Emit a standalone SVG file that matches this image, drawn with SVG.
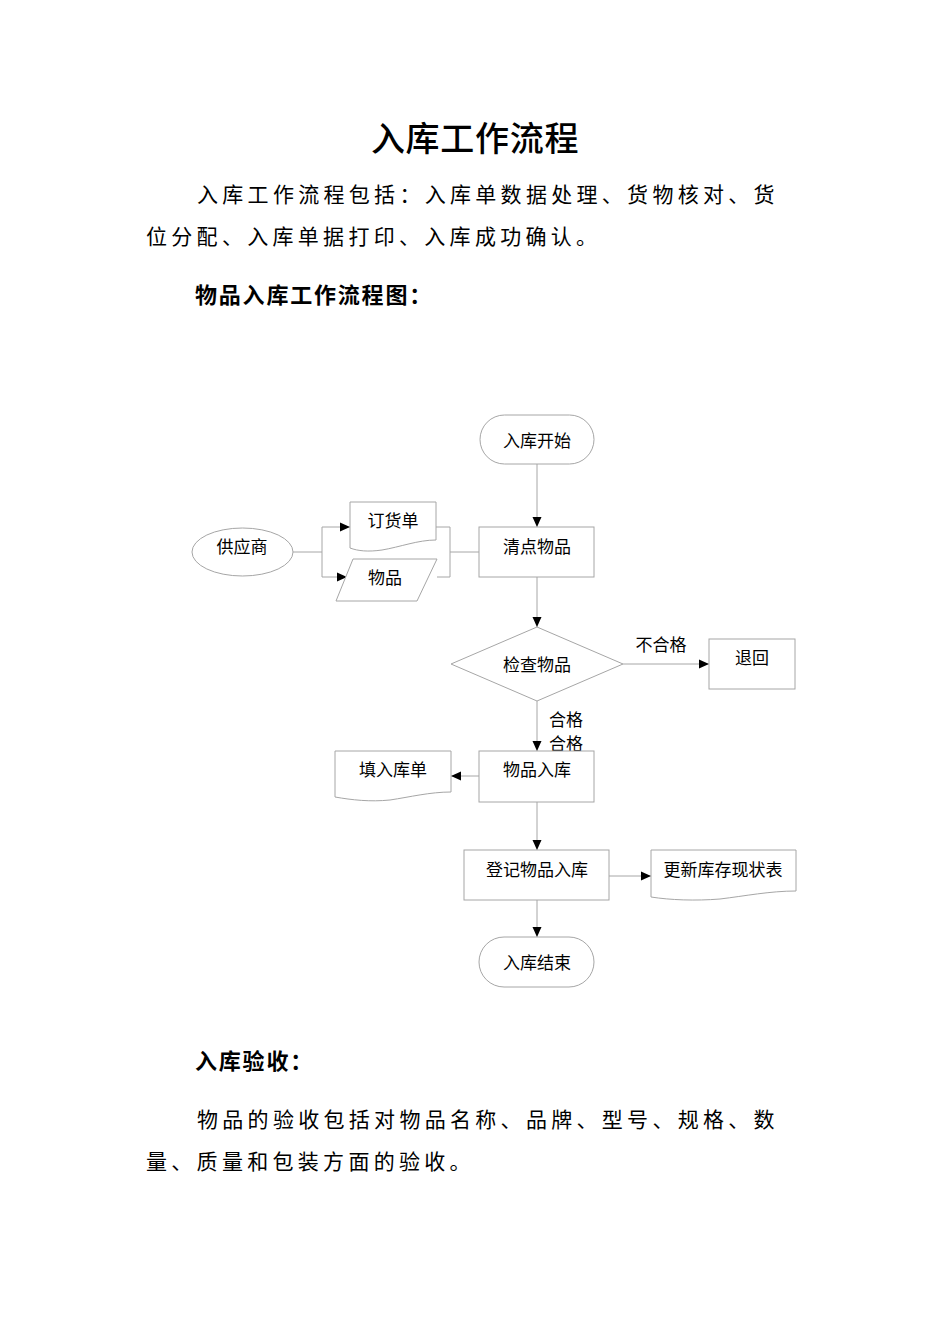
<svg xmlns="http://www.w3.org/2000/svg" width="950" height="1344" viewBox="0 0 950 1344">
<style>
.t{font-family:"Noto Sans CJK SC","Noto Sans",sans-serif;fill:#000}
.n{font-size:17px;text-anchor:middle;dominant-baseline:central}
.p{font-size:21px;letter-spacing:4.3px;dominant-baseline:central}
.h{font-size:22px;font-weight:bold;letter-spacing:1.8px;dominant-baseline:central}
.s{fill:#fff;stroke:#a6a6a6;stroke-width:1}
.c{fill:none;stroke:#a6a6a6;stroke-width:1}
</style>
<defs>
<marker id="ah" markerWidth="10" markerHeight="10" refX="10" refY="5" orient="auto" markerUnits="userSpaceOnUse">
<path d="M0,0.5 L10,5 L0,9.5 Z" fill="#000"/>
</marker>
</defs>
<rect width="950" height="1344" fill="#fff"/>

<text class="t" x="475" y="136" font-size="34" font-weight="500" text-anchor="middle" dominant-baseline="central" letter-spacing="0.7">入库工作流程</text>
<text class="t p" x="197" y="193">入库工作流程包括：入库单数据处理、货物核对、货</text>
<text class="t p" x="146" y="235">位分配、入库单据打印、入库成功确认。</text>
<text class="t h" x="195" y="293">物品入库工作流程图：</text>

<g id="connectors">
<path class="c" d="M537,464 V527" marker-end="url(#ah)"/>
<path class="c" d="M293,552 H322"/>
<path class="c" d="M322,527 V577"/>
<path class="c" d="M322,527 H350" marker-end="url(#ah)"/>
<path class="c" d="M322,577 H347" marker-end="url(#ah)"/>
<path class="c" d="M436,527 H450 V577 H437"/>
<path class="c" d="M450,552 H479"/>
<path class="c" d="M537,577 V627" marker-end="url(#ah)"/>
<path class="c" d="M623,664 H709" marker-end="url(#ah)"/>
<path class="c" d="M537,701 V751" marker-end="url(#ah)"/>
<path class="c" d="M479,776 H451" marker-end="url(#ah)"/>
<path class="c" d="M537,802 V850" marker-end="url(#ah)"/>
<path class="c" d="M609,876 H651" marker-end="url(#ah)"/>
<path class="c" d="M537,900 V937" marker-end="url(#ah)"/>
<text class="t n" x="661" y="643">不合格</text>
<text class="t n" x="566" y="718">合格</text>
<text class="t n" x="566" y="742">合格</text>
</g>

<g id="start">
<rect class="s" x="480" y="415" width="114" height="49" rx="24.5"/>
<text class="t n" x="537" y="439.5">入库开始</text>
</g>
<g id="supplier">
<ellipse class="s" cx="242.5" cy="552" rx="50.5" ry="24"/>
<text class="t n" x="242" y="545.5">供应商</text>
</g>
<g id="order">
<path class="s" d="M350,502 H436 V540 C418,540 400,547 382,550 C368,552 358,551 350,548 Z"/>
<text class="t n" x="393" y="519.5">订货单</text>
</g>
<g id="goods">
<path class="s" d="M353,559 H437 L417,601 H336 Z"/>
<text class="t n" x="385" y="576.5">物品</text>
</g>
<g id="count">
<rect class="s" x="479" y="527" width="115" height="50"/>
<text class="t n" x="537" y="545.5">清点物品</text>
</g>
<g id="check">
<path class="s" d="M537,627 L623,664 L537,701 L451,664 Z"/>
<text class="t n" x="537" y="663.5">检查物品</text>
</g>
<g id="return">
<rect class="s" x="709" y="639" width="86" height="50"/>
<text class="t n" x="752" y="656.5">退回</text>
</g>
<g id="instock">
<rect class="s" x="479" y="751" width="115" height="51"/>
<text class="t n" x="537" y="768.5">物品入库</text>
</g>
<g id="fillform">
<path class="s" d="M335,751 H451 V792 C430,792 410,797 390,800 C370,802 352,800 335,797 Z"/>
<text class="t n" x="393" y="768.5">填入库单</text>
</g>
<g id="register">
<rect class="s" x="464" y="850" width="145" height="50"/>
<text class="t n" x="537" y="868.5">登记物品入库</text>
</g>
<g id="update">
<path class="s" d="M651,850 H796 V891 C770,891 745,896 720,899 C695,901 670,900 651,897 Z"/>
<text class="t n" x="723" y="868.5">更新库存现状表</text>
</g>
<g id="end">
<rect class="s" x="479" y="937" width="115" height="50" rx="25"/>
<text class="t n" x="537" y="961.5">入库结束</text>
</g>

<text class="t h" x="195" y="1059">入库验收：</text>
<text class="t p" x="197" y="1118" letter-spacing="4.4">物品的验收包括对物品名称、品牌、型号、规格、数</text>
<text class="t p" x="146" y="1160" letter-spacing="4.4">量、质量和包装方面的验收。</text>
</svg>
